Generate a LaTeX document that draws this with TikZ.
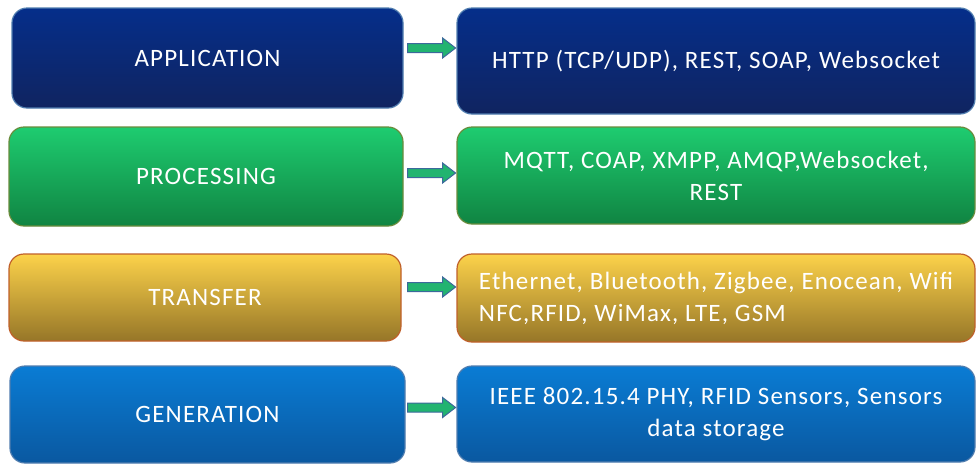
\documentclass[tikz,border=0pt]{standalone}
\usepackage{fontspec}
\setmainfont{Carlito}[LetterSpace=4.7]
\usetikzlibrary{calc}
\definecolor{appT}{RGB}{5,46,138}
\definecolor{appB}{RGB}{16,36,96}
\definecolor{procT}{RGB}{30,204,112}
\definecolor{procB}{RGB}{16,132,66}
\definecolor{tranT}{RGB}{252,210,74}
\definecolor{tranB}{RGB}{150,118,40}
\definecolor{genT}{RGB}{10,124,212}
\definecolor{genB}{RGB}{10,88,160}
\definecolor{blueEdge}{RGB}{80,125,175}
\definecolor{greenEdge}{RGB}{105,140,60}
\definecolor{orangeEdge}{RGB}{192,96,42}
\definecolor{arrFill}{RGB}{34,180,112}
\definecolor{arrEdge}{RGB}{60,105,155}
\tikzset{
  layer/.style={rounded corners=15pt, line width=1.2pt, text=white, font=\fontsize{25}{32}\selectfont, align=center, inner sep=0pt},
  app/.style={layer, draw=blueEdge, top color=appT, bottom color=appB},
  proc/.style={layer, draw=greenEdge, top color=procT, bottom color=procB},
  tran/.style={layer, draw=orangeEdge, top color=tranT, bottom color=tranB},
  gen/.style={layer, draw=blueEdge, top color=genT, bottom color=genB},
  arr/.style={fill=arrFill, draw=arrEdge, line width=1pt, line join=miter},
}
\newcommand{\bigarrow}[1]{%
  \draw[arr] ($(#1)+(0,-4.5)$) -- ++(35,0) -- ++(0,-5.5) -- ++(13,10) -- ++(-13,10) -- ++(0,-5.5) -- ++(-35,0) -- cycle;}
\begin{document}
\begin{tikzpicture}[x=1pt,y=-1pt]
\useasboundingbox (0,0) rectangle (976,464);
% left column
\node[app, minimum width=391pt, minimum height=100pt] (appL) at (207.5,58) {APPLICATION};
\node[proc, minimum width=394pt, minimum height=99pt] (procL) at (206,176.5) {PROCESSING};
\node[tran, minimum width=392pt, minimum height=87pt] (tranL) at (205,297.5) {TRANSFER};
\node[gen, minimum width=395pt, minimum height=97pt] (genL) at (207.5,414.5) {GENERATION};
% right column
\node[app, minimum width=518pt, minimum height=106pt] (appR) at (716,61) {HTTP (TCP/UDP), REST, SOAP, Websocket};
\node[proc, minimum width=518pt, minimum height=97pt] (procR) at (716,175.5) {MQTT, COAP, XMPP, AMQP,Websocket,\\REST};
\node[tran, minimum width=518pt, minimum height=88pt, align=left] (tranR) at (716,298) {Ethernet, Bluetooth, Zigbee, Enocean, Wifi\\NFC,RFID, WiMax, LTE, GSM};
\node[gen, minimum width=518pt, minimum height=96pt] (genR) at (716,414) {IEEE 802.15.4 PHY, RFID Sensors, Sensors\\data storage};
% arrows
\coordinate (s1) at ($(appL.east |- 0,48)+(4,0)$);
\coordinate (s2) at ($(procL.east |- 0,173)+(4,0)$);
\coordinate (s3) at ($(tranL.east |- 0,287)+(6,0)$);
\coordinate (s4) at ($(genL.east |- 0,407.5)+(2,0)$);
\bigarrow{s1}
\bigarrow{s2}
\bigarrow{s3}
\bigarrow{s4}
\end{tikzpicture}
\end{document}
